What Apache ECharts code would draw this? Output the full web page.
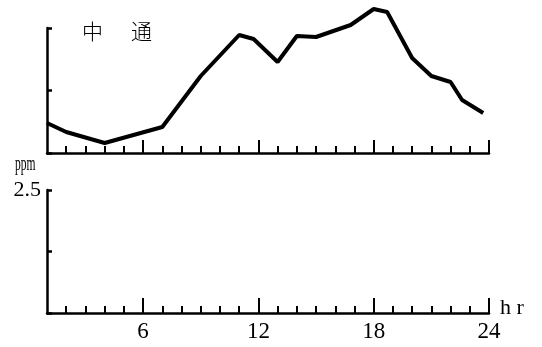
<!DOCTYPE html>
<html>
<head>
<meta charset="utf-8">
<script src="https://cdn.jsdelivr.net/npm/echarts@6/dist/echarts.min.js"></script>
<style>html,body{margin:0;padding:0;background:#fff}#c{width:542px;height:347px}</style>
</head>
<body>
<div id="c"></div>
<script>
// Hour of day (x) and concentration in ppm (y) for 中通
const hours = [1, 2, 4, 7, 9, 11, 11.75, 13, 14, 15, 16.8, 18, 18.7, 20, 21, 22, 22.6, 23.7];
const ppm   = [0.60, 0.42, 0.20, 0.52, 1.54, 2.36, 2.28, 1.82, 2.34, 2.32, 2.56, 2.88, 2.82, 1.90, 1.54, 1.42, 1.06, 0.80];
const minorTicks = [2,3,4,5,7,8,9,10,11,13,14,15,16,17,19,20,21,22,23];
const majorTicks = [6, 12, 18, 24];
const xLabels = [6, 12, 18, 24];
const yLabelValues = [2.5];
const titleChars = ['中', '通'];

const chart = echarts.init(document.getElementById('c'));
const serif = '"Liberation Serif","DejaVu Serif",serif';
const lineStyle = {color: '#000', width: 2.5};

function xAxes(gridIndex, showLabels, minorLen, majorLen) {
  return [
    {
      type: 'value', gridIndex, min: 1, max: 24,
      axisLine: {show: true, lineStyle, onZero: false},
      axisTick: {show: true, inside: true, length: minorLen, customValues: minorTicks, lineStyle: {color: '#000', width: 2}},
      axisLabel: {show: false},
      splitLine: {show: false}
    },
    {
      type: 'value', gridIndex, min: 1, max: 24, position: 'bottom',
      axisLine: {show: false},
      axisTick: {show: true, inside: true, length: majorLen, customValues: majorTicks, lineStyle: {color: '#000', width: 2}},
      axisLabel: {show: showLabels, customValues: xLabels, color: '#000', fontFamily: serif, fontSize: 23, margin: 7},
      splitLine: {show: false}
    }
  ];
}

function yAxis(gridIndex, showLabel) {
  return {
    type: 'value', gridIndex, min: 0, max: 2.5, interval: 1.25,
    axisLine: {show: true, lineStyle},
    axisTick: {show: true, inside: true, length: 5, lineStyle: {color: '#000', width: 2.5}},
    axisLabel: {show: showLabel, customValues: yLabelValues, color: '#000', fontFamily: serif, fontSize: 22, margin: 6,
      formatter: v => v.toFixed(1)},
    splitLine: {show: false}
  };
}

const titleStyle = {fontSize: 21, fontFamily: '"Noto Sans CJK JP"', fontWeight: 300, fill: '#000'};

chart.setOption({
  animation: false,
  backgroundColor: '#fff',
  grid: [
    {left: 47, top: 28, width: 442, height: 125},
    {left: 47, top: 190, width: 442, height: 123}
  ],
  xAxis: [...xAxes(0, false, 7, 13), ...xAxes(1, true, 7, 15)],
  yAxis: [yAxis(0, false), yAxis(1, true)],
  series: [{
    type: 'line', xAxisIndex: 0, yAxisIndex: 0, clip: false,
    data: hours.map((h, i) => [h, ppm[i]]),
    showSymbol: false, symbol: 'none',
    lineStyle: {color: '#000', width: 4},
    itemStyle: {color: '#000'}
  }],
  graphic: [
    {type: 'text', x: 82, y: 21, style: Object.assign({text: titleChars[0]}, titleStyle)},
    {type: 'text', x: 131, y: 21, style: Object.assign({text: titleChars[1]}, titleStyle)},
    {type: 'text', x: 15, y: 154, scaleX: 0.55, style: {text: 'ppm', fontSize: 21, fontFamily: serif, fill: '#000'}},
    {type: 'text', x: 500, y: 297, style: {text: 'h r', fontSize: 22, fontFamily: serif, fill: '#000'}}
  ]
});
</script>
</body>
</html>
